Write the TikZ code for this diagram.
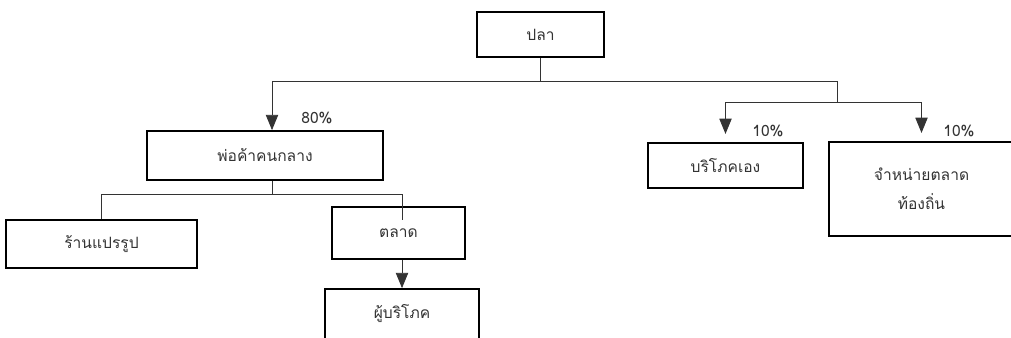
\documentclass[tikz,border=0pt]{standalone}
\usepackage{fontspec}
\newfontfamily\thaifont[Script=Thai]{Loma}
\usetikzlibrary{arrows.meta}

\tikzset{
  box/.style={draw, line width=1.5pt, align=center, inner sep=0pt, text=black!80},
  link/.style={draw, line width=0.7pt, black!80},
  flow/.style={link, -{Triangle[width=10.5pt, length=13pt]}},
  share/.style={inner sep=0pt, text=black!80}
}

\begin{document}
\begin{tikzpicture}[x=0.03cm, y=-0.03cm, font=\thaifont\fontsize{13.3}{25}\selectfont]
\useasboundingbox (0,0) rectangle (1011,338);

% boxes
\node (pla) [box, minimum width=127*0.03cm, minimum height=45*0.03cm] at (540.5,34.5) {ปลา};
\node (middleman) [box, minimum width=236*0.03cm, minimum height=49*0.03cm] at (265,155.5) {พ่อค้าคนกลาง};
\node (self) [box, minimum width=155*0.03cm, minimum height=45*0.03cm] at (725.5,165.5) {บริโภคเอง};
\node (local) [box, minimum width=185*0.03cm, minimum height=94*0.03cm] at (921.5,189) {จำหน่ายตลาด\\ท้องถิ่น};
\node (shop) [box, minimum width=191*0.03cm, minimum height=48*0.03cm] at (101.5,244) {ร้านแปรรูป};
\node (market) [box, minimum width=133*0.03cm, minimum height=52*0.03cm] at (398.5,233) {ตลาด};
\node (consumer) [box, minimum width=154*0.03cm, minimum height=50*0.03cm] at (402,314) {ผู้บริโภค};

% shares
\node (p80) [share] at (317,118) {80\%};
\node (p10a) [share] at (768,131) {10\%};
\node (p10b) [share] at (959,131) {10\%};

% junctions
\coordinate (jl) at (272,81);
\coordinate (jr) at (837,81);
\coordinate (jr2) at (837,102);
\coordinate (jb) at (272,194);
\coordinate (jm) at (402,220);

\draw[link] (pla.south) |- (jl);
\draw[flow] (jl) -- (jl |- middleman.north);
\draw[link] (pla.south) |- (jr) -- (jr2);
\draw[flow, shorten >=7pt] (jr2) -| (self.north);
\draw[flow, shorten >=7pt] (jr2) -| (local.north);
\draw[link] (jl |- middleman.south) -- (jb);
\draw[link] (jb) -| (shop.north);
\draw[link] (jb) -| (jm);
\draw[flow] (market.south -| jm) -- (consumer.north -| jm);
\end{tikzpicture}
\end{document}
